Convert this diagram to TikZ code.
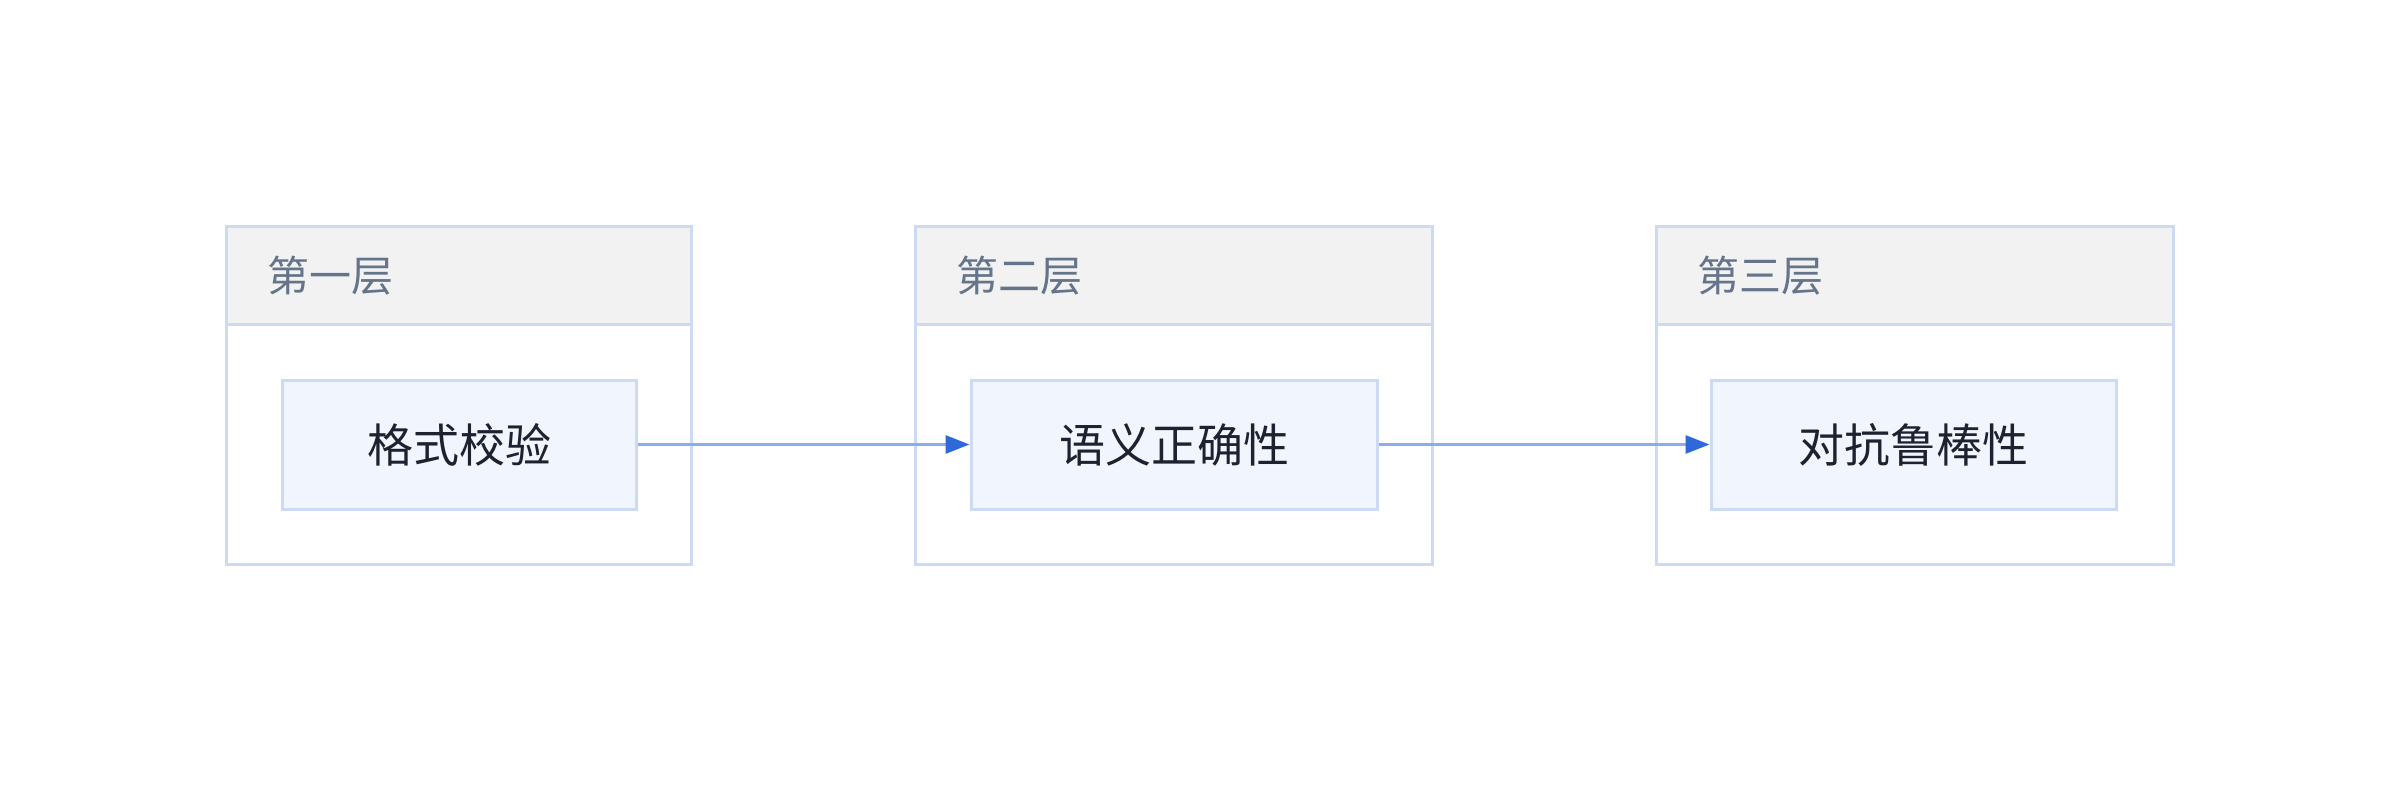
\documentclass[tikz,border=0pt]{standalone}
\usepackage{fontspec}
\setmainfont{Noto Sans CJK SC}
\usetikzlibrary{arrows.meta}
\definecolor{bordc}{HTML}{CCDAF3}
\definecolor{headfill}{HTML}{F2F2F2}
\definecolor{nodefill}{HTML}{F0F5FE}
\definecolor{linec}{HTML}{8AAEEB}
\definecolor{tipc}{HTML}{2F68D8}
\definecolor{headtext}{HTML}{64748B}
\definecolor{nodetext}{HTML}{1E2230}
\tikzset{
  container/.style={draw=bordc, fill=white, line width=1.5pt, rectangle, inner sep=0pt, minimum height=169.15pt},
  headerbox/.style={draw=bordc, fill=headfill, line width=1.5pt, rectangle, inner sep=0pt, minimum height=49pt},
  headerlabel/.style={anchor=west, inner sep=0pt, text=headtext, font=\fontsize{21pt}{24pt}\selectfont},
  stepbox/.style={draw=bordc, fill=nodefill, line width=1.5pt, rectangle, inner sep=0pt, minimum height=64.5pt, text=nodetext, font=\fontsize{23pt}{26pt}\selectfont},
  flow/.style={draw=linec, line width=1.5pt, -{Triangle[length=12pt,width=9pt,color=tipc]}}
}
\begin{document}
\begin{tikzpicture}[x=0.5pt,y=-0.5pt]
\useasboundingbox[fill=white] (0,0) rectangle (2400,792);
% containers
\node[container, minimum width=232.65pt] (c1) at (459.15,395.65) {};
\node[container, minimum width=258.65pt] (c2) at (1173.95,395.65) {};
\node[container, minimum width=258.7pt] (c3) at (1914.7,395.65) {};
% headers
\node[headerbox, minimum width=232.65pt] (h1) at (459.15,275.5) {};
\node[headerbox, minimum width=258.65pt] (h2) at (1173.95,275.5) {};
\node[headerbox, minimum width=258.7pt] (h3) at (1914.7,275.5) {};
\node[headerlabel] (t1) at (267.5,275.5) {第一层};
\node[headerlabel] (t2) at (956.3,275.5) {第二层};
\node[headerlabel] (t3) at (1697,275.5) {第三层};
% steps
\node[stepbox, minimum width=177.35pt] (n1) at (459.35,444.5) {格式校验};
\node[stepbox, minimum width=203.25pt] (n2) at (1174.25,444.5) {语义正确性};
\node[stepbox, minimum width=202.85pt] (n3) at (1913.85,444.5) {对抗鲁棒性};
% arrows
\draw[flow] (n1.east) -- (n2.west);
\draw[flow] (n2.east) -- (n3.west);
\end{tikzpicture}
\end{document}
